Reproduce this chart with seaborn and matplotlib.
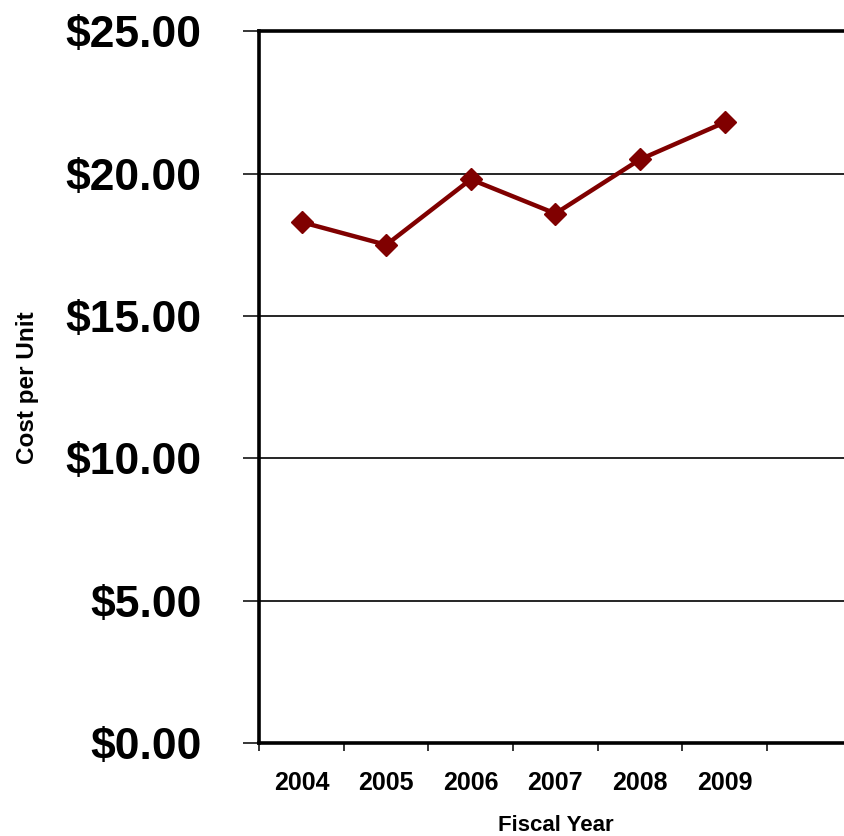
import matplotlib
matplotlib.use("Agg")
import matplotlib.pyplot as plt
from matplotlib.ticker import FixedLocator, FuncFormatter
import numpy as np
import pandas as pd
import seaborn as sns

# Cost per unit by fiscal year
years = ["2004", "2005", "2006", "2007", "2008", "2009"]
cost_per_unit = [18.3, 17.5, 19.8, 18.6, 20.5, 21.8]
y_ticks = [0, 5, 10, 15, 20, 25]

sns.set_style("white")
plt.rcParams["font.family"] = ["Liberation Sans", "DejaVu Sans"]
plt.rcParams["font.weight"] = "bold"
for key in ["text.color", "axes.labelcolor", "xtick.color", "ytick.color",
            "xtick.labelcolor", "ytick.labelcolor"]:
    plt.rcParams[key] = "black"

df = pd.DataFrame({"pos": np.arange(len(years)), "cost": cost_per_unit, "year": years})

fig = plt.figure(figsize=(8.44, 8.36), dpi=100)
ax = fig.add_axes([0.3072, 0.1109, 0.7017, 0.8517])

sns.lineplot(data=df, x="pos", y="cost", ax=ax, color="#800000", linewidth=3.2,
             marker="D", markersize=11.5, markeredgecolor="#800000",
             markeredgewidth=1, zorder=5)

# one extra empty category slot on the right
ax.set_xlim(-0.5, len(years) + 0.5)
ax.set_ylim(0, 25)

# horizontal gridlines
ax.yaxis.set_major_locator(FixedLocator(y_ticks))
ax.yaxis.set_major_formatter(FuncFormatter(lambda v, _: f"${v:.2f}"))
for v in y_ticks[1:-1]:
    ax.axhline(v, color="black", linewidth=1.2, zorder=1)

# category labels at centers, tick marks at category boundaries
ax.xaxis.set_major_locator(FixedLocator(list(range(len(years)))))
ax.set_xticklabels(years)
ax.xaxis.set_minor_locator(FixedLocator(list(np.arange(-0.5, len(years) + 1, 1.0))))

ax.tick_params(axis="x", which="major", length=0, pad=20, labelsize=18)
ax.tick_params(axis="x", which="minor", length=6, width=1.1, color="black",
               direction="out", bottom=True)
ax.tick_params(axis="y", which="major", length=11.5, width=1.1, color="black",
               direction="out", left=True, pad=30, labelsize=32)
for lbl in ax.get_xticklabels() + ax.get_yticklabels():
    lbl.set_fontweight("bold")
    lbl.set_color("black")

for side in ["left", "bottom", "top"]:
    ax.spines[side].set_visible(True)
    ax.spines[side].set_color("black")
    ax.spines[side].set_linewidth(2.6)
ax.spines["right"].set_visible(False)

ax.set_xlabel("Fiscal Year", fontsize=16, fontweight="bold", color="black")
ax.set_ylabel("Cost per Unit", fontsize=17.5, fontweight="bold", color="black")
ax.xaxis.set_label_coords(0.50, -0.101)
ax.yaxis.set_label_coords(-0.372, 0.5)

fig.savefig("out.png", dpi=100)
